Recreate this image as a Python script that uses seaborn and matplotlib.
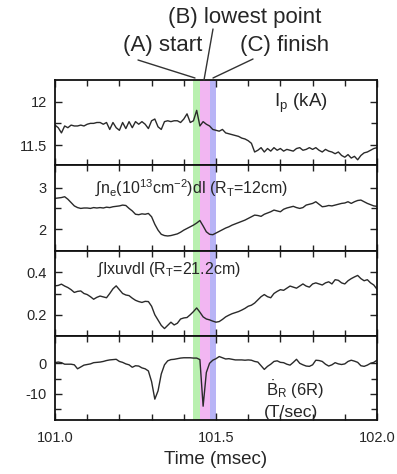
import numpy as np
import pandas as pd
import matplotlib
matplotlib.use("Agg")
import matplotlib.pyplot as plt
import seaborn as sns

# ---------------- data ----------------
time_start, time_step, n_pts = 101.0, 0.01, 101

ip_ka = [11.73, 11.70, 11.64, 11.72, 11.70, 11.73, 11.72, 11.72, 11.73, 11.72,
         11.74, 11.75, 11.75, 11.76, 11.76, 11.74, 11.76, 11.68, 11.76, 11.70,
         11.67, 11.76, 11.69, 11.77, 11.70, 11.77, 11.74, 11.77, 11.74, 11.69,
         11.78, 11.80, 11.71, 11.68, 11.77, 11.78, 11.77, 11.78, 11.78, 11.76,
         11.80, 11.86, 11.76, 11.78, 11.90, 11.72, 11.77, 11.74, 11.72, 11.68,
         11.67, 11.66, 11.68, 11.64, 11.63, 11.62, 11.61, 11.60, 11.58, 11.57,
         11.55, 11.52, 11.42, 11.44, 11.47, 11.42, 11.46, 11.43, 11.47, 11.44,
         11.46, 11.43, 11.45, 11.44, 11.43, 11.46, 11.47, 11.44, 11.45, 11.47,
         11.45, 11.47, 11.44, 11.42, 11.45, 11.43, 11.42, 11.40, 11.42, 11.38,
         11.36, 11.39, 11.35, 11.37, 11.33, 11.38, 11.41, 11.42, 11.44, 11.46,
         11.47]

density = [2.74, 2.75, 2.76, 2.78, 2.72, 2.64, 2.56, 2.52, 2.50, 2.51,
           2.51, 2.50, 2.52, 2.51, 2.52, 2.51, 2.53, 2.52, 2.54, 2.55,
           2.56, 2.58, 2.57, 2.50, 2.44, 2.36, 2.35, 2.37, 2.36, 2.38,
           2.30, 2.12, 1.98, 1.88, 1.85, 1.84, 1.85, 1.87, 1.89, 1.93,
           1.98, 2.02, 2.06, 2.10, 2.15, 2.21, 2.08, 1.94, 1.88, 1.87,
           1.91, 1.95, 1.99, 2.03, 2.06, 2.10, 2.13, 2.16, 2.19, 2.22,
           2.26, 2.30, 2.34, 2.33, 2.31, 2.36, 2.39, 2.42, 2.46, 2.44,
           2.42, 2.48, 2.51, 2.53, 2.55, 2.52, 2.50, 2.52, 2.58, 2.60,
           2.62, 2.66, 2.60, 2.54, 2.55, 2.57, 2.56, 2.58, 2.60, 2.62,
           2.63, 2.66, 2.62, 2.66, 2.69, 2.70, 2.66, 2.62, 2.59, 2.56,
           2.55]

xuv = [0.336, 0.338, 0.344, 0.335, 0.328, 0.318, 0.305, 0.310, 0.312, 0.300,
       0.295, 0.285, 0.273, 0.282, 0.288, 0.284, 0.280, 0.300, 0.322, 0.336,
       0.318, 0.300, 0.293, 0.290, 0.278, 0.268, 0.262, 0.258, 0.263, 0.262,
       0.240, 0.200, 0.175, 0.150, 0.135, 0.150, 0.165, 0.152, 0.160, 0.180,
       0.185, 0.187, 0.200, 0.215, 0.232, 0.212, 0.190, 0.180, 0.176, 0.170,
       0.165, 0.168, 0.178, 0.190, 0.198, 0.205, 0.210, 0.215, 0.222, 0.230,
       0.240, 0.245, 0.255, 0.270, 0.285, 0.295, 0.285, 0.280, 0.300, 0.310,
       0.318, 0.315, 0.325, 0.335, 0.330, 0.325, 0.335, 0.345, 0.335, 0.330,
       0.345, 0.350, 0.345, 0.340, 0.350, 0.355, 0.345, 0.365, 0.362, 0.350,
       0.345, 0.360, 0.370, 0.378, 0.385, 0.370, 0.360, 0.365, 0.350, 0.340,
       0.320]

b_dot = [0.2, 0.4, 0.2, -0.3, -0.3, -0.3, -0.5, -1.8, -1.2, -0.6,
         -0.4, -0.2, 0.2, 0.3, 0.4, 0.6, 0.9, 1.1, 1.2, 1.3,
         0.6, 0.3, -0.2, -0.5, -1.3, -0.8, -0.9, -1.5, -1.8, -2.5,
         -6.0, -11.7, -9.0, -3.5, -0.5, 0.8, 1.2, 1.3, 1.5, 1.7,
         1.8, 1.8, 1.8, 1.7, 1.7, 1.2, -14.0, -3.0, 0.0, 1.0,
         1.5, 2.2, 1.8, 1.4, 1.5, 1.3, 1.1, 1.1, 1.1, 1.0,
         1.1, 1.0, 0.6, 0.4, -0.8, -2.0, -1.0, -0.3, 0.6, 0.8,
         0.3, 0.2, -0.3, -0.6, 0.3, 1.3, 0.0, -0.5, -0.9, -1.0,
         -0.5, 1.0, 0.9, 0.6, -0.3, -0.9, -0.5, 0.2, -0.2, -0.4,
         -0.2, 0.6, 1.0, 0.7, 0.3, -0.8, -1.0, -0.6, 0.0, 0.3,
         1.0]

# event bands (A) start, (B) lowest point, (C) finish
band_edges = [101.43, 101.45, 101.48, 101.50]
band_colors = ["#b9f0b0", "#f2b6f2", "#b8b4f6"]

x_ticks = [101.0, 101.5, 102.0]
x_tick_labels = ["101.0", "101.5", "102.0"]
panel_ylims = [(11.27, 12.25), (1.48, 3.54), (0.10, 0.50), (-18.5, 8.9)]
panel_major = [[11.5, 12.0], [2, 3], [0.2, 0.4], [-10, 0]]
panel_major_labels = [["11.5", "12"], ["2", "3"], ["0.2", "0.4"], ["-10", "0"]]
panel_minor = [[11.75], [2.5], [0.3], [-15, -5]]

time = np.round(time_start + time_step * np.arange(n_pts), 3)
df = pd.DataFrame({"time": time, "ip": ip_ka, "ne": density,
                   "xuv": xuv, "br": b_dot})

# ---------------- plotting ----------------
sns.set_theme(style="white")
plt.rcParams["font.family"] = ["Liberation Sans", "DejaVu Sans"]
plt.rcParams["mathtext.fontset"] = "custom"
plt.rcParams["mathtext.rm"] = "Liberation Sans"
plt.rcParams["mathtext.it"] = "Liberation Sans"

fig = plt.figure(figsize=(3.97, 4.74), dpi=100)
tops = [80, 165, 251, 336, 420]
W, H = 397, 474
axes = []
for i in range(4):
    bottom = 1 - tops[i + 1] / H
    height = (tops[i + 1] - tops[i]) / H
    ax = fig.add_axes([55 / W, bottom, 322 / W, height])
    axes.append(ax)

cols = ["ip", "ne", "xuv", "br"]
for i, (ax, col) in enumerate(zip(axes, cols)):
    for j, c in enumerate(band_colors):
        ax.axvspan(band_edges[j], band_edges[j + 1], color=c, lw=0, zorder=0)
    sns.lineplot(data=df, x="time", y=col, ax=ax, color="#2a2a2a", lw=1.0)
    ax.set_xlim(101.0, 102.0)
    ax.set_ylim(*panel_ylims[i])
    ax.set_xlabel("")
    ax.set_ylabel("")
    ax.set_xticks(x_ticks)
    ax.set_xticks(np.round(np.arange(101.1, 102.0, 0.1), 2), minor=True)
    ax.set_yticks(panel_major[i])
    ax.set_yticks(panel_minor[i], minor=True)
    if i < 3:
        ax.set_xticklabels([])
    else:
        ax.set_xticklabels(x_tick_labels)
    ax.set_yticklabels(panel_major_labels[i])
    ax.tick_params(which="both", direction="in", top=True, right=True,
                   bottom=True, left=True, color="#222222", width=1.0)
    ax.tick_params(which="major", length=5, labelsize=10.5, pad=6)
    ax.tick_params(which="minor", length=4)
    ax.tick_params(axis="x", which="major", pad=8)
    for s in ax.spines.values():
        s.set_linewidth(1.3)
        s.set_color("#111111")

# panel annotations
axes[0].text(0.68, 0.72, r"I$_\mathrm{p}$ (kA)", transform=axes[0].transAxes,
             fontsize=13.5, ha="left", va="center")
axes[1].text(0.125, 0.74,
             r"$\int$n$_\mathrm{e}$(10$^{13}$cm$^{-2}$)dl (R$_\mathrm{T}$=12cm)",
             transform=axes[1].transAxes, fontsize=11.5, ha="left", va="center")
axes[2].text(0.13, 0.78, r"$\int$Ixuvdl (R$_\mathrm{T}$=21.2cm)",
             transform=axes[2].transAxes, fontsize=11.5, ha="left", va="center")
axes[3].text(0.655, 0.36, r"$\dot{\mathrm{B}}$$_\mathrm{R}$ (6R)",
             transform=axes[3].transAxes, fontsize=12, ha="left", va="center")
axes[3].text(0.65, 0.09, "(T/sec)", transform=axes[3].transAxes,
             fontsize=12.5, ha="left", va="center")

axes[3].set_xlabel("Time (msec)", fontsize=13.5, labelpad=4)

# header labels with leader lines
fig.text(245 / W, 1 - 18 / H, "(B) lowest point", fontsize=16, ha="center", va="center")
fig.text(163 / W, 1 - 46 / H, "(A) start", fontsize=16, ha="center", va="center")
fig.text(285 / W, 1 - 46 / H, "(C) finish", fontsize=16, ha="center", va="center")
for (x0, y0), (x1, y1) in [((138, 60), (195, 78)), ((213, 29), (204, 80)),
                           ((253, 59), (213, 78))]:
    fig.add_artist(plt.Line2D([x0 / W, x1 / W], [1 - y0 / H, 1 - y1 / H],
                              transform=fig.transFigure, color="#333333", lw=1.0))

fig.savefig("out.png", dpi=100)
